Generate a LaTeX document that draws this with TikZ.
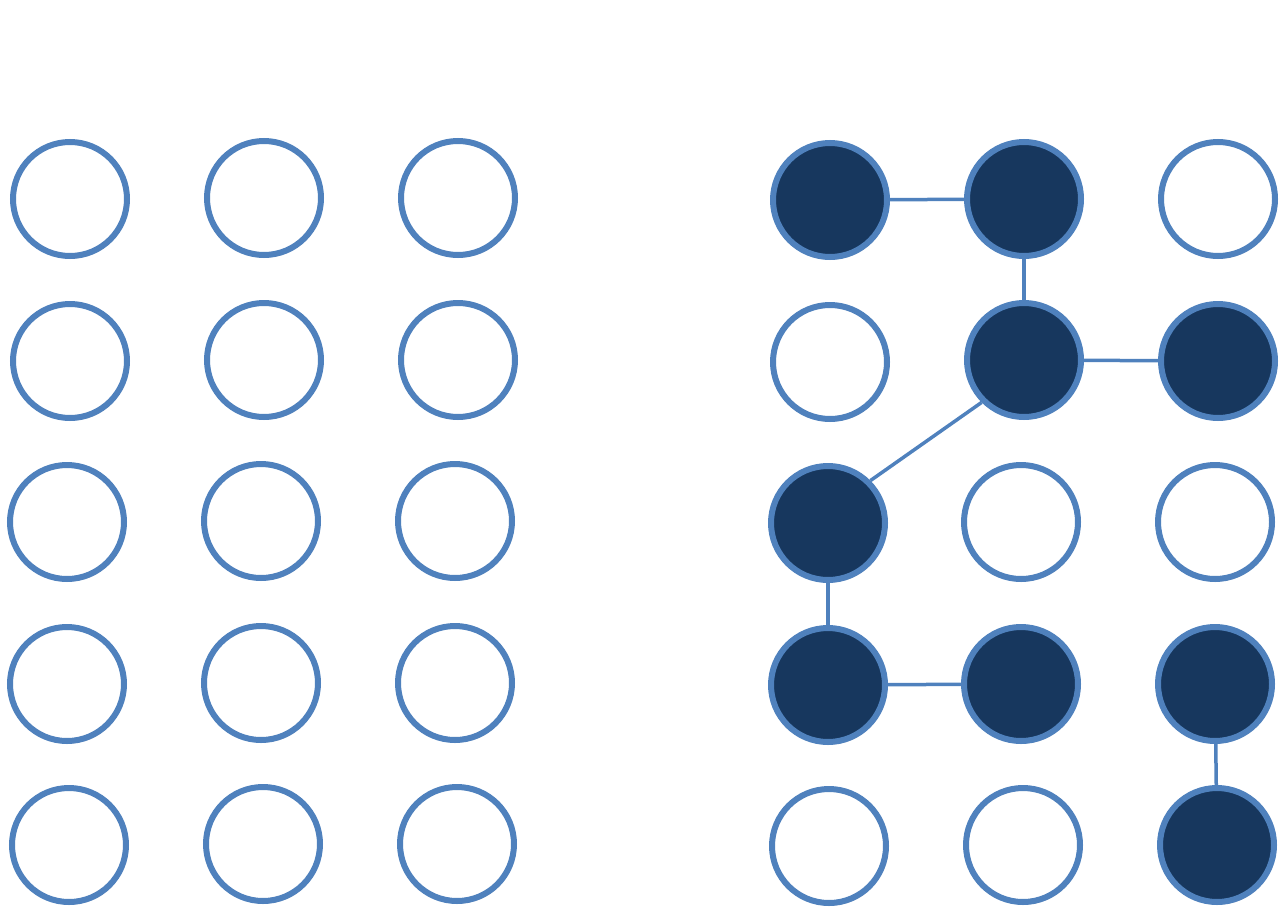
\documentclass[tikz,border=0pt]{standalone}
\usetikzlibrary{shadows}
\definecolor{ringblue}{HTML}{4F81BD}
\definecolor{navy}{HTML}{17375E}
\tikzset{
  dot/.style={circle, draw=ringblue, line width=6pt, minimum size=114pt, inner sep=0pt, fill=white,
    drop shadow={opacity=0.22, shadow xshift=1.5pt, shadow yshift=-2.5pt}},
  full/.style={dot, fill=navy},
  link/.style={draw=ringblue, line width=3.5pt}
}
\begin{document}
\begin{tikzpicture}[x=1pt,y=-1pt]
\useasboundingbox (0,0) rectangle (1287,918);
% left grid
\node[dot] (a11) at (70,199) {};
\node[dot] (a12) at (264,198) {};
\node[dot] (a13) at (458,198) {};
\node[dot] (a21) at (70,361) {};
\node[dot] (a22) at (264,360) {};
\node[dot] (a23) at (458,360) {};
\node[dot] (a31) at (67,522) {};
\node[dot] (a32) at (261,521) {};
\node[dot] (a33) at (455,521) {};
\node[dot] (a41) at (67,684) {};
\node[dot] (a42) at (261,683) {};
\node[dot] (a43) at (455,683) {};
\node[dot] (a51) at (69,845) {};
\node[dot] (a52) at (263,844) {};
\node[dot] (a53) at (457,844) {};
% right grid
\node[full] (b11) at (830,200) {};
\node[full] (b12) at (1024,199) {};
\node[dot]  (b13) at (1218,199) {};
\node[dot]  (b21) at (830,362) {};
\node[full] (b22) at (1024,360) {};
\node[full] (b23) at (1218,361) {};
\node[full] (b31) at (828,523) {};
\node[dot]  (b32) at (1021,522) {};
\node[dot]  (b33) at (1215,522) {};
\node[full] (b41) at (828,685) {};
\node[full] (b42) at (1021,684) {};
\node[full] (b43) at (1215,684) {};
\node[dot]  (b51) at (829,846) {};
\node[dot]  (b52) at (1023,845) {};
\node[full] (b53) at (1217,845) {};
% links
\draw[link] (b11) -- (b12);
\draw[link] (b12) -- (b22);
\draw[link] (b22) -- (b23);
\draw[link] (b22.225) -- (b31.45);
\draw[link] (b31) -- (b41);
\draw[link] (b41) -- (b42);
\draw[link] (b43) -- (b53);
\end{tikzpicture}
\end{document}
